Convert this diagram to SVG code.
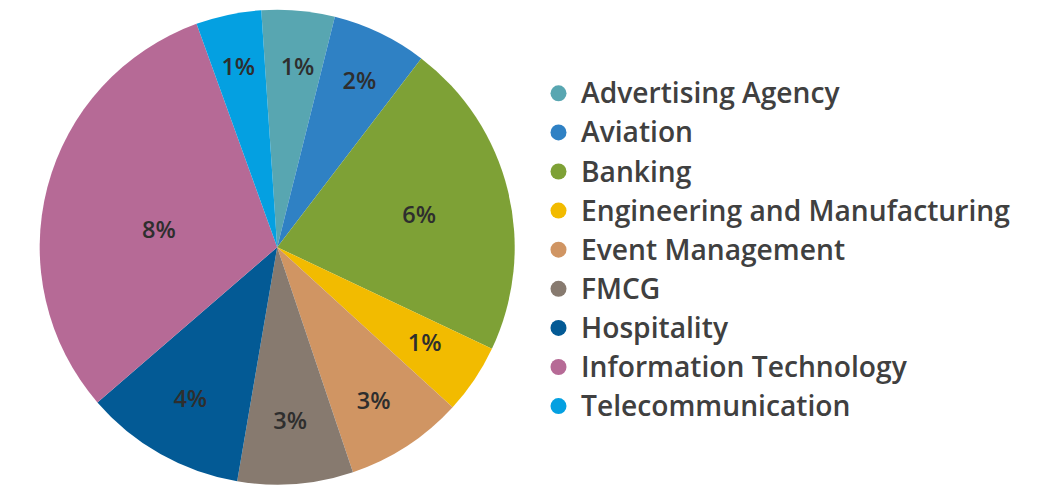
<svg xmlns="http://www.w3.org/2000/svg" width="1058" height="486" viewBox="0 0 1058 486">
<style>
.pl{font-family:"Open Sans","Noto Sans","Liberation Sans",sans-serif;font-weight:600;font-size:23.5px;fill:#2e2e2e;text-anchor:middle}
.lg{font-family:"Open Sans","Noto Sans","Liberation Sans",sans-serif;font-weight:600;font-size:28.2px;fill:#404040}
</style>
<rect width="1058" height="486" fill="#ffffff"/>
<g id="pie">
<g id="slice-advertising"><path d="M277.2,247.2 L261.25,10.23 A237.5,237.5 0 0 1 334.89,16.82 Z" fill="#58a6b1"/><text class="pl" x="297.5" y="75.1">1%</text></g>
<g id="slice-aviation"><path d="M277.2,247.2 L334.89,16.82 A237.5,237.5 0 0 1 421.29,58.41 Z" fill="#2f81c4"/><text class="pl" x="359.4" y="88.6">2%</text></g>
<g id="slice-banking"><path d="M277.2,247.2 L421.29,58.41 A237.5,237.5 0 0 1 491.92,348.71 Z" fill="#7ea136"/><text class="pl" x="419.2" y="223.3">6%</text></g>
<g id="slice-engineering"><path d="M277.2,247.2 L491.92,348.71 A237.5,237.5 0 0 1 452.62,407.35 Z" fill="#f2bb00"/><text class="pl" x="424.6" y="350.5">1%</text></g>
<g id="slice-event"><path d="M277.2,247.2 L452.62,407.35 A237.5,237.5 0 0 1 352.96,472.30 Z" fill="#d09563"/><text class="pl" x="373.6" y="409">3%</text></g>
<g id="slice-fmcg"><path d="M277.2,247.2 L352.96,472.30 A237.5,237.5 0 0 1 237.18,481.30 Z" fill="#877a6f"/><text class="pl" x="290.1" y="429.3">3%</text></g>
<g id="slice-hospitality"><path d="M277.2,247.2 L237.18,481.30 A237.5,237.5 0 0 1 97.41,402.38 Z" fill="#035a95"/><text class="pl" x="190.3" y="407.3">4%</text></g>
<g id="slice-it"><path d="M277.2,247.2 L97.41,402.38 A237.5,237.5 0 0 1 196.54,23.81 Z" fill="#b66a96"/><text class="pl" x="158.9" y="238.4">8%</text></g>
<g id="slice-telecom"><path d="M277.2,247.2 L196.54,23.81 A237.5,237.5 0 0 1 261.25,10.23 Z" fill="#04a0e1"/><text class="pl" x="238.3" y="75.1">1%</text></g>
</g>
<g id="legend">
<g id="lg-advertising"><circle cx="558.5" cy="93.3" r="8" fill="#58a6b1"/><text class="lg" x="581" y="103.3">Advertising Agency</text></g>
<g id="lg-aviation"><circle cx="558.5" cy="132.4" r="8" fill="#2f81c4"/><text class="lg" x="581" y="142.4">Aviation</text></g>
<g id="lg-banking"><circle cx="558.5" cy="171.5" r="8" fill="#7ea136"/><text class="lg" x="581" y="181.5">Banking</text></g>
<g id="lg-engineering"><circle cx="558.5" cy="210.6" r="8" fill="#f2bb00"/><text class="lg" x="581" y="220.6">Engineering and Manufacturing</text></g>
<g id="lg-event"><circle cx="558.5" cy="249.7" r="8" fill="#d09563"/><text class="lg" x="581" y="259.7">Event Management</text></g>
<g id="lg-fmcg"><circle cx="558.5" cy="288.8" r="8" fill="#877a6f"/><text class="lg" x="581" y="298.8">FMCG</text></g>
<g id="lg-hospitality"><circle cx="558.5" cy="327.9" r="8" fill="#035a95"/><text class="lg" x="581" y="337.9">Hospitality</text></g>
<g id="lg-it"><circle cx="558.5" cy="367" r="8" fill="#b66a96"/><text class="lg" x="581" y="377">Information Technology</text></g>
<g id="lg-telecom"><circle cx="558.5" cy="406.1" r="8" fill="#04a0e1"/><text class="lg" x="581" y="416.1">Telecommunication</text></g>
</g>
</svg>
